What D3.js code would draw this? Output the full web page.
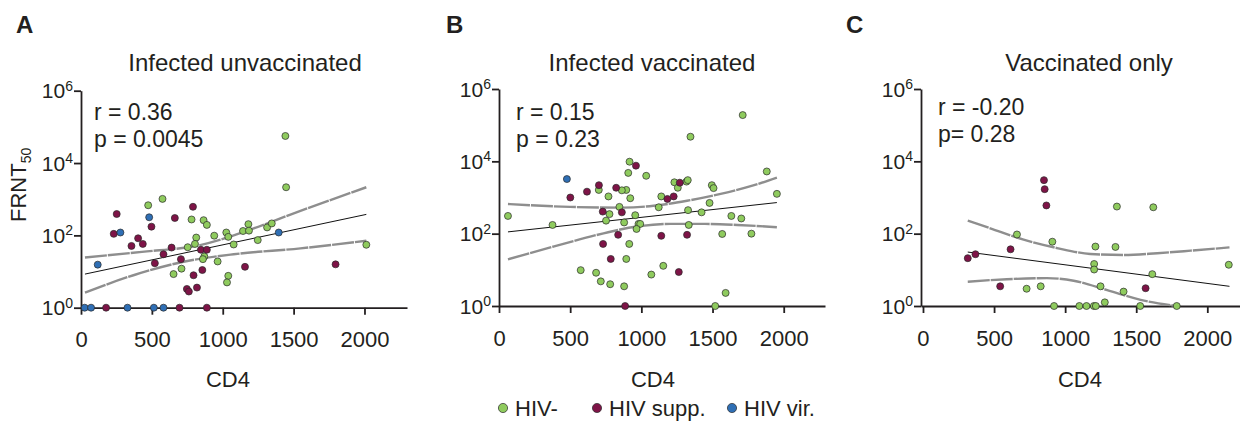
<!DOCTYPE html>
<html>
<head>
<meta charset="utf-8">
<script src="https://cdn.jsdelivr.net/npm/d3@7"></script>
<style>
  body { margin: 0; background: #fff; }
  svg { display: block; font-family: "Liberation Sans", Arial, Helvetica, sans-serif; }
</style>
</head>
<body>
<svg id="chart" width="1240" height="421"></svg>
<script>
const groups = ["HIV-", "HIV supp.", "HIV vir."];
const groupColors = ["#8fcb5e", "#7e1447", "#2f6fb5"];
const xTicks = [0, 500, 1000, 1500, 2000];
const yTicks = [1, 100, 1e4, 1e6];

// A: infected unvaccinated, [CD4, FRNT50]
const aHivNeg = [[1442, 56000], [1447, 2140], [575, 1020], [474, 680], [780, 275], [865, 263], [888, 195],
  [813, 87], [804, 58], [753, 47], [940, 98], [1025, 120], [1039, 91], [1077, 56], [1143, 132], [1181, 204],
  [1185, 135], [1247, 74], [1313, 166], [1346, 214], [2013, 55], [870, 26], [860, 22], [964, 19], [709, 12],
  [653, 8.5], [1039, 7.6], [1030, 5.0]];
const aHivSupp = [[252, 389], [231, 110], [356, 51], [403, 83], [436, 58], [497, 174], [662, 302], [790, 617],
  [639, 46], [582, 30], [521, 17], [705, 22], [846, 40], [888, 40], [856, 11], [794, 7.9], [747, 3.3], [761, 2.8],
  [818, 3.6], [1157, 13.5], [1796, 15.8], [177, 1], [695, 1], [888, 1]];
const aHivVir = [[481, 316], [278, 120], [118, 15.5], [1395, 120], [26, 1], [71, 1], [328, 1], [514, 1], [582, 1]];
const aFit = [[28, 8.5], [2013, 380]];
const aUpper = [[28, 24.5], [430, 35], [841, 53.7], [1218, 155], [1454, 347], [2013, 2140]];
const aLower = [[28, 2.6], [370, 7.9], [724, 18.6], [1077, 30], [1548, 43.7], [2013, 70.8]];

// B: infected vaccinated
const bHivNeg = [[63, 309], [376, 174], [1712, 190000], [1345, 47900], [917, 9770], [908, 4790], [1034, 3980],
  [701, 1620], [894, 1620], [863, 1580], [769, 1070], [922, 955], [846, 550], [776, 347], [752, 229], [879, 204],
  [957, 324], [980, 186], [992, 186], [966, 135], [915, 52], [894, 20], [574, 9.8], [682, 8.3], [715, 4.8],
  [781, 4.0], [879, 3.5], [1070, 7.4], [1154, 12.9], [1140, 1070], [1122, 537], [1232, 2630], [1256, 1860],
  [1317, 2750], [1326, 3020], [1328, 447], [1333, 174], [1423, 389], [1479, 708], [1495, 2190], [1507, 1820],
  [1568, 98], [1632, 309], [1702, 263], [1773, 100], [1881, 5250], [1952, 1260], [1519, 1], [1592, 2.3]];
const bHivSupp = [[962, 7590], [501, 1000], [618, 1450], [702, 2190], [823, 1860], [729, 407], [863, 389],
  [837, 93], [731, 52], [785, 20], [886, 1], [1140, 87], [1183, 912], [1227, 1070], [1270, 2570], [1321, 93],
  [1263, 8.7]];
const bHivVir = [[477, 3240]];
const bFit = [[63, 112], [1952, 724]];
const bUpper = [[63, 661], [498, 550], [851, 525], [1086, 589], [1321, 813], [1557, 1260], [1792, 2190], [1952, 3550]];
const bLower = [[63, 19.5], [381, 43.7], [734, 102], [969, 158], [1204, 186], [1439, 186], [1674, 174], [1952, 151]];

// C: vaccinated only
const cHivNeg = [[661, 95], [910, 60], [729, 3.0], [828, 3.5], [922, 1], [1100, 1], [1150, 1], [1202, 1],
  [1216, 1], [1279, 1.26], [1249, 3.5], [1213, 44], [1204, 14.5], [1204, 10.2], [1354, 43], [1364, 562],
  [1411, 2.5], [1528, 1], [1613, 7.6], [1620, 537], [1785, 1], [2151, 13.8]];
const cHivSupp = [[315, 21], [369, 27], [616, 37], [543, 3.5], [851, 3020], [856, 1700], [868, 603], [1566, 3.1]];
const cHivVir = [];
const cFit = [[315, 31], [2156, 3.5]];
const cUpper = [[315, 229], [473, 141], [708, 68], [943, 40], [1178, 27.5], [1413, 25.7], [1648, 28.8], [1883, 33.9], [2156, 41.7]];
const cLower = [[315, 4.7], [590, 5.5], [872, 5.9], [1060, 5.0], [1296, 2.75], [1531, 1.48], [1785, 1]];

const panels = [
  { letter: "A", title: "Infected unvaccinated", r: "r = 0.36", p: "p = 0.0045",
    series: [aHivNeg, aHivSupp, aHivVir], fit: aFit, upper: aUpper, lower: aLower,
    xDomain: [0, 2300], left: 81, right: 407, top: 90.7, bottom: 307.7,
    letterX: 16, titleX: 245, statX: 94, statY: 120, cd4X: 228 },
  { letter: "B", title: "Infected vaccinated", r: "r = 0.15", p: "p = 0.23",
    series: [bHivNeg, bHivSupp, bHivVir], fit: bFit, upper: bUpper, lower: bLower,
    xDomain: [0, 2290], left: 499, right: 825, top: 89, bottom: 306,
    letterX: 446, titleX: 652, statX: 516, statY: 120, cd4X: 653 },
  { letter: "C", title: "Vaccinated only", r: "r = -0.20", p: "p= 0.28",
    series: [cHivNeg, cHivSupp, cHivVir], fit: cFit, upper: cUpper, lower: cLower,
    xDomain: [-14, 2230], left: 921, right: 1240, top: 89, bottom: 306,
    letterX: 846, titleX: 1089, statX: 938, statY: 115, cd4X: 1080 }
];

const ink = "#231f20";
const svg = d3.select("#chart");

function drawPanel(p) {
  const x = d3.scaleLinear().domain(p.xDomain).range([p.left, p.right]);
  const y = d3.scaleLog().domain([1, 1e6]).range([p.bottom, p.top]);
  const g = svg.append("g");

  g.append("text").attr("x", p.letterX).attr("y", 33)
    .attr("font-size", 24).attr("font-weight", "bold").attr("fill", ink).text(p.letter);
  g.append("text").attr("x", p.titleX).attr("y", 71).attr("text-anchor", "middle")
    .attr("font-size", 24).attr("fill", ink).text(p.title);

  const xAxis = g.append("g").attr("transform", `translate(0,${p.bottom})`)
    .call(d3.axisBottom(x).tickValues(xTicks).tickSize(7).tickPadding(17).tickSizeOuter(0).tickFormat(d3.format("d")));
  const yAxis = g.append("g").attr("transform", `translate(${p.left},0)`)
    .call(d3.axisLeft(y).tickValues(yTicks).tickSize(7).tickSizeOuter(0).tickFormat(""));
  [xAxis, yAxis].forEach(a => {
    a.selectAll("path, line").attr("stroke", ink).attr("stroke-width", 1.8);
    a.selectAll("text").attr("fill", ink).attr("font-size", 22).attr("font-family", null);
  });

  const yLab = g.append("g").selectAll("text").data(yTicks).enter().append("text")
    .attr("x", p.left - 8).attr("y", d => y(d) + 7.6)
    .attr("text-anchor", "end").attr("font-size", 21).attr("fill", ink);
  yLab.append("tspan").text("10");
  yLab.append("tspan").attr("dy", -7.5).attr("font-size", 14).text(d => Math.round(Math.log10(d)));

  g.append("text").attr("x", p.cd4X).attr("y", 387).attr("text-anchor", "middle")
    .attr("font-size", 22).attr("fill", ink).text("CD4");

  g.append("text").attr("x", p.statX).attr("y", p.statY).attr("font-size", 23).attr("fill", ink).text(p.r);
  g.append("text").attr("x", p.statX).attr("y", p.statY + 27).attr("font-size", 23).attr("fill", ink).text(p.p);

  const band = d3.line().x(d => x(d[0])).y(d => y(d[1])).curve(d3.curveMonotoneX);
  [p.upper, p.lower].forEach(b => {
    g.append("path").attr("d", band(b)).attr("fill", "none")
      .attr("stroke", "#8e8e8e").attr("stroke-width", 2.4).attr("stroke-dasharray", "22 1");
  });
  g.append("path").attr("d", d3.line().x(d => x(d[0])).y(d => y(d[1]))(p.fit))
    .attr("fill", "none").attr("stroke", "#111").attr("stroke-width", 1);

  p.series.forEach((pts, i) => {
    g.append("g").selectAll("circle").data(pts).enter().append("circle")
      .attr("cx", d => x(d[0])).attr("cy", d => y(d[1])).attr("r", 3.5)
      .attr("fill", groupColors[i]).attr("stroke", "#2a2a2a").attr("stroke-width", 0.7);
  });
}

panels.forEach(drawPanel);

// y label
svg.append("text").attr("transform", "translate(26,222) rotate(-90)")
  .attr("font-size", 22).attr("fill", ink)
  .call(t => {
    t.append("tspan").text("FRNT");
    t.append("tspan").attr("dy", 5).attr("font-size", 14).text("50");
  });

// legend
const legendX = [503, 597, 732];
const legend = svg.append("g").selectAll("g").data(groups).enter().append("g")
  .attr("transform", (d, i) => `translate(${legendX[i]},408)`);
legend.append("circle").attr("r", 4.6).attr("fill", (d, i) => groupColors[i])
  .attr("stroke", "#2a2a2a").attr("stroke-width", 0.7);
legend.append("text").attr("x", 12).attr("y", 7.5).attr("font-size", 22).attr("fill", ink).text(d => d);
</script>
</body>
</html>
